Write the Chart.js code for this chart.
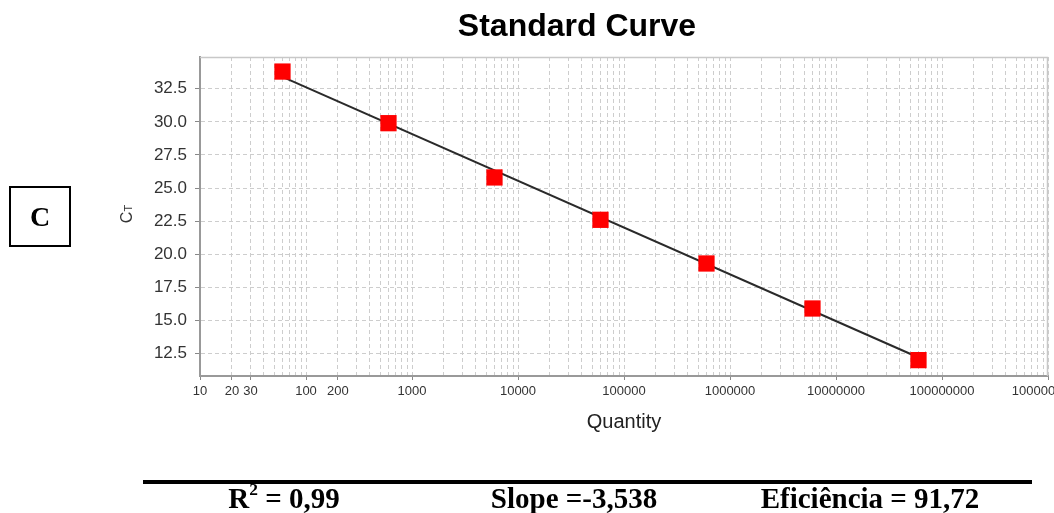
<!DOCTYPE html>
<html lang="en">
<head>
<meta charset="UTF-8">
<title>Standard Curve</title>
<script src="https://cdn.jsdelivr.net/npm/chart.js"></script>
<style>
    * { margin: 0; padding: 0; box-sizing: border-box; }
    html, body { width: 1054px; height: 513px; overflow: hidden; background: #fff; }
    #curve { position: absolute; left: 0; top: 0; }
    .panel-tag {
        position: absolute; left: 9px; top: 186px; width: 62px; height: 61px;
        border: 2px solid #000;
        font: bold 28px 'Liberation Serif', 'Times New Roman', serif;
        display: flex; align-items: center; justify-content: center;
    }
    .rule { position: absolute; left: 143px; top: 480px; width: 889px; height: 4px; background: #000; }
    .stat {
        position: absolute; top: 484px;
        font: bold 29px 'Liberation Serif', 'Times New Roman', serif;
        line-height: 29px; white-space: nowrap; transform: translateX(-50%);
    }
    .stat .sq { font-size: 60%; position: relative; top: -0.75em; line-height: 0; }
</style>
</head>
<body>
<canvas id="curve" width="1100" height="513"></canvas>
<div class="panel-tag">C</div>
<div class="rule"></div>
<div class="stat" style="left:284px">R<span class="sq">2</span> = 0,99</div>
<div class="stat" style="left:574px">Slope =-3,538</div>
<div class="stat" style="left:870px">Eficiência = 91,72</div>

<script>
    // standards (quantity vs Ct)
    const quantities = [60, 600, 6000, 60000, 600000, 6000000, 60000000];
    const ctValues = [33.8, 29.9, 25.8, 22.6, 19.3, 15.9, 12.0];

    // regression line ends
    const fitQuantity = [60, 60000000];
    const fitCt = [33.4, 12.2];

    const yTicks = [12.5, 15, 17.5, 20, 22.5, 25, 27.5, 30, 32.5];
    const xLabeled = [10, 20, 30, 100, 200, 1000, 10000, 100000, 1000000, 10000000, 100000000, 1000000000];

    Chart.defaults.font.family = "'Liberation Sans', Arial, sans-serif";

    // every 1..9 x 10^n between 10 and 1e9 gets a grid line
    function logGridTicks() {
        const ticks = [];
        for (let p = 1; p <= 8; p++) {
            for (let s = 1; s <= 9; s++) ticks.push({ value: s * Math.pow(10, p) });
        }
        ticks.push({ value: 1e9 });
        return ticks;
    }

    function isLabeled(v) {
        return xLabeled.some(l => Math.abs(l - v) / l < 1e-6);
    }

    const framePlugin = {
        id: 'frame',
        beforeDatasetsDraw(chart) {
            const { ctx, chartArea: a } = chart;
            ctx.save();
            ctx.strokeStyle = '#c8c8c8';
            ctx.lineWidth = 1.5;
            ctx.beginPath();
            ctx.moveTo(a.left, a.top + 0.5);
            ctx.lineTo(a.right - 0.5, a.top + 0.5);
            ctx.lineTo(a.right - 0.5, a.bottom);
            ctx.stroke();
            ctx.restore();
        },
        afterDraw(chart) {
            // "CT" axis label with the small T
            const ctx = chart.ctx;
            ctx.save();
            ctx.translate(132, 214);
            ctx.rotate(-Math.PI / 2);
            ctx.fillStyle = '#333';
            ctx.textBaseline = 'alphabetic';
            ctx.font = "16px 'Liberation Sans', Arial, sans-serif";
            const cw = ctx.measureText('C').width;
            ctx.font = "11px 'Liberation Sans', Arial, sans-serif";
            const tw = ctx.measureText('T').width;
            const x0 = -(cw + tw) / 2;
            ctx.font = "16px 'Liberation Sans', Arial, sans-serif";
            ctx.fillText('C', x0, 0);
            ctx.font = "11px 'Liberation Sans', Arial, sans-serif";
            ctx.fillText('T', x0 + cw, 0);
            ctx.restore();
        }
    };

    new Chart(document.getElementById('curve'), {
        type: 'scatter',
        data: {
            datasets: [
                {
                    label: 'Fit',
                    data: fitQuantity.map((q, i) => ({ x: q, y: fitCt[i] })),
                    showLine: true,
                    borderColor: '#2a2a2a',
                    borderWidth: 2,
                    pointRadius: 0,
                    order: 2
                },
                {
                    label: 'Standards',
                    data: quantities.map((q, i) => ({ x: q, y: ctValues[i] })),
                    pointStyle: 'rect',
                    pointRadius: 11.5,
                    pointHoverRadius: 11.5,
                    backgroundColor: '#ff0000',
                    pointBorderWidth: 0,
                    order: 1
                }
            ]
        },
        options: {
            responsive: false,
            animation: false,
            layout: { padding: { left: 106, right: 52, top: 0, bottom: 77 } },
            plugins: {
                legend: { display: false },
                tooltip: { enabled: false },
                title: {
                    display: true,
                    text: 'Standard Curve',
                    color: '#000',
                    font: { size: 32, weight: 'bold' },
                    padding: { top: 8, bottom: 10.6 }
                }
            },
            scales: {
                x: {
                    type: 'logarithmic',
                    min: 10,
                    max: 1e9,
                    afterBuildTicks: (axis) => { axis.ticks = logGridTicks(); },
                    afterFit: (axis) => { axis.height = 60; },
                    ticks: {
                        autoSkip: false,
                        maxRotation: 0,
                        minRotation: 0,
                        padding: 4,
                        color: '#333',
                        font: { size: 13 },
                        callback: (v) => isLabeled(v) ? String(Math.round(v)) : ''
                    },
                    grid: {
                        color: '#cdcdcd',
                        lineWidth: 1,
                        tickLength: 4,
                        tickBorderDash: [],
                        tickColor: (c) => (c.tick && isLabeled(c.tick.value)) ? '#888' : 'rgba(0,0,0,0)'
                    },
                    border: { display: true, color: '#999', width: 2, dash: [4, 3] },
                    title: {
                        display: true,
                        text: 'Quantity',
                        color: '#222',
                        font: { size: 20 },
                        padding: { top: 0, bottom: 2 }
                    }
                },
                y: {
                    min: 10.8,
                    max: 34.9,
                    afterBuildTicks: (axis) => { axis.ticks = yTicks.map(v => ({ value: v })); },
                    afterFit: (axis) => { axis.width = 94; },
                    ticks: {
                        padding: 8,
                        color: '#333',
                        font: { size: 17 },
                        callback: (v) => v.toFixed(1)
                    },
                    grid: {
                        color: '#cdcdcd',
                        lineWidth: 1,
                        tickLength: 5,
                        tickBorderDash: [],
                        tickColor: '#888'
                    },
                    border: { display: true, color: '#999', width: 2, dash: [4, 3] }
                }
            }
        },
        plugins: [framePlugin]
    });
</script>
</body>
</html>
